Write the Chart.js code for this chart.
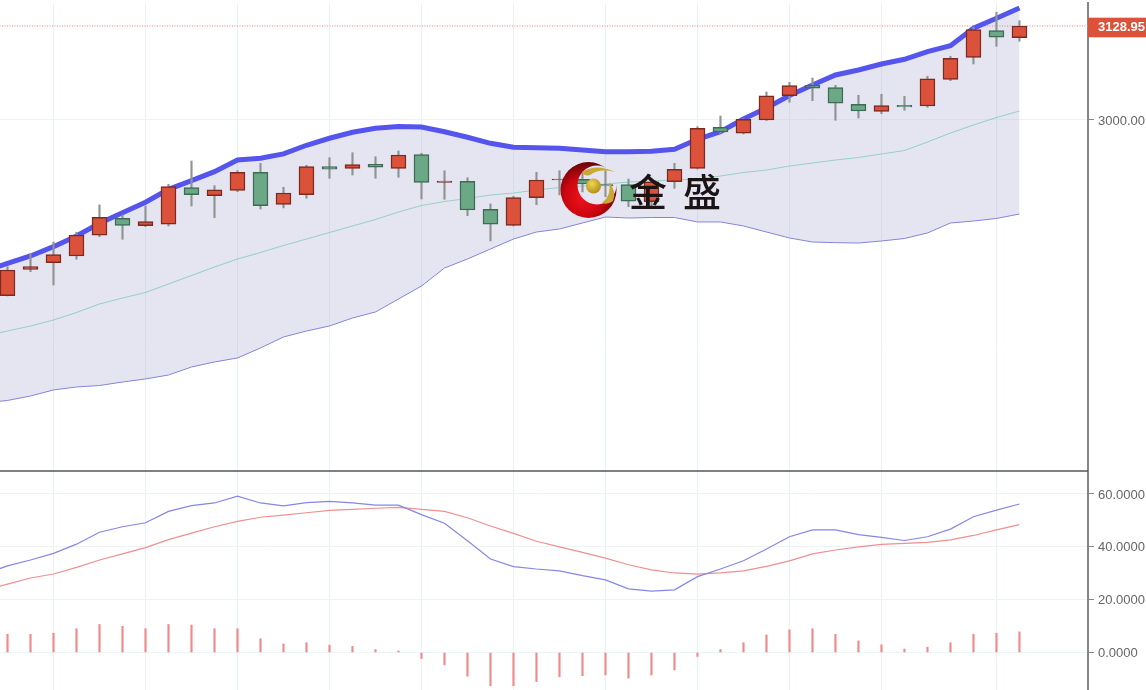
<!DOCTYPE html>
<html>
<head>
<meta charset="utf-8">
<script src="https://cdn.jsdelivr.net/npm/chart.js@4"></script>
<style>
html,body{margin:0;padding:0;background:#fff;overflow:hidden}
#wrap{position:relative;width:1146px;height:690px;filter:blur(0.4px)}
canvas{display:block}
.wm{position:absolute;font-family:"Noto Sans CJK SC",sans-serif;font-weight:500;font-size:38px;line-height:38px;color:#1c1414}
svg{position:absolute;left:0;top:0}
</style>
</head>
<body>
<div id="wrap">
<canvas id="c" width="1146" height="690"></canvas>
<svg width="1146" height="690" viewBox="0 0 1146 690">
<defs>
<radialGradient id="rg" cx="0.42" cy="0.62" r="0.62">
<stop offset="0" stop-color="#f0141e"/><stop offset="0.55" stop-color="#cc060f"/><stop offset="1" stop-color="#640508"/>
</radialGradient>
<radialGradient id="gb" cx="0.4" cy="0.35" r="0.7">
<stop offset="0" stop-color="#f0d850"/><stop offset="1" stop-color="#b08a18"/>
</radialGradient>
<mask id="cm"><rect x="540" y="150" width="100" height="90" fill="#fff"/><circle cx="597" cy="185" r="19.5" fill="#000"/></mask>
</defs>
<circle cx="588.5" cy="190" r="28" fill="url(#rg)" mask="url(#cm)"/>
<path d="M582 172 Q596 163 615 172 Q600 168 590 175 Q585 177 582 172Z" fill="#c8a838"/>
<path d="M602 203 Q612 195 609 182 Q617 192 613 201 Q608 205 602 203Z" fill="#c8a838"/>
<circle cx="593.5" cy="186" r="7.5" fill="url(#gb)"/>
</svg>
<div class="wm" style="left:629px;top:171px">金</div>
<div class="wm" style="left:683px;top:171px">盛</div>
</div>
<script>
const xIndex = [-1,0,1,2,3,4,5,6,7,8,9,10,11,12,13,14,15,16,17,18,19,20,21,22,23,24,25,26,27,28,29,30,31,32,33,34,35,36,37,38,39,40,41,42,43,44];
const opens = [2758.9,2794.9,2804.2,2813.4,2841.8,2865.1,2855,2856.9,2907.1,2896.1,2903.5,2928.2,2884.3,2897.5,2935.9,2933.7,2939.2,2933.7,2952.4,2914.5,2915.9,2877.5,2855.5,2893.4,2917.7,2918.6,2911.2,2911.2,2887.9,2915.3,2933.7,2990,2981.8,3000,3033.3,3047.6,3044.3,3021.5,3011.9,3020.2,3019.2,3055.8,3086,3122.5,3112.9];
const highs = [2798.7,2817.1,2832.6,2845.9,2883.4,2869.7,2882,2911.8,2943.7,2909.9,2930.4,2940.6,2907.7,2937.8,2948.3,2955.1,2949.6,2957.5,2954.3,2930.4,2920.8,2884.8,2895.3,2928.2,2930.4,2928.7,2930.4,2919,2920.4,2940.6,2990.8,3005.5,3001.8,3038.4,3051.7,3057.6,3047.6,3033.9,3035.3,3032.5,3060,3087.4,3127.2,3147.8,3136.2];
const lows = [2758.5,2791.9,2773.6,2808.9,2839.9,2836.3,2853.6,2854.6,2882,2866,2901.6,2877.9,2879.3,2892.6,2920,2924.5,2920,2921.4,2891.6,2891.2,2868.7,2834,2854.6,2883.8,2897.1,2901.2,2894.8,2881,2882,2906.3,2932.8,2981.8,2980.8,2999.3,3024.3,3026.5,2999.6,3002.7,3008.6,3013.3,3017.4,3053.9,3076.8,3101.1,3108];
const closes = [2794.2,2799,2815.2,2842.2,2866.5,2855.5,2860.5,2908.5,2897.5,2904,2928.2,2882.4,2899.8,2935.9,2932.4,2938.7,2935.1,2952,2914.5,2916.3,2876.5,2856.9,2893.4,2917.7,2919,2912.2,2909.4,2888.5,2915.3,2932.4,2988.6,2983.5,3001,3033.3,3047.1,3043.5,3022.9,3012.3,3019.6,3017.8,3056.3,3084.7,3123.9,3113.5,3128.95];
const bandUpper = [2792.8,2803.4,2813.4,2826.2,2840.8,2858.3,2872.8,2887.1,2904.9,2916.7,2929.1,2945.1,2947.5,2953.4,2965.3,2974.9,2983.1,2988.6,2991.1,2990.4,2983.9,2976.3,2968,2962.5,2962,2961.2,2958.8,2956.5,2956.5,2957.1,2959.8,2973.5,2983.9,3001.4,3016.5,3033.6,3048,3061.7,3068.6,3076.8,3083.3,3093.7,3101.9,3125.8,3139.5,3153.7];
const bandMiddle = [2703.6,2710.5,2717.4,2725.6,2735.9,2747.6,2755.8,2763.3,2775,2786.7,2798.3,2809.3,2818.2,2827.8,2836.7,2845.6,2854.6,2863.5,2873.8,2882.7,2888.2,2892.3,2897.1,2899.8,2904,2907.4,2909.4,2912.2,2914.9,2916.3,2917.7,2919.1,2923.2,2928,2931.4,2936.9,2941,2945.1,2948.5,2953.4,2958.2,2969.8,2982.2,2993.1,3003.4,3012.3];
const bandLower = [2611.7,2615.2,2621.3,2629.6,2633.7,2635.7,2640.5,2644.7,2650.1,2661.1,2668,2673.5,2687.2,2702.3,2710.5,2717.4,2728.3,2736.6,2754.4,2772.2,2796.9,2809.3,2823,2836.7,2846.3,2850.5,2858.7,2866.9,2865.5,2866.2,2866.2,2860.1,2860.1,2854.6,2846.3,2838.1,2832.6,2831.7,2831.2,2834,2837.4,2845,2858.7,2861.4,2864.9,2871];
const macdDif = [29.7,32.8,35,37.5,41,45.5,47.6,49.1,53.4,55.6,56.6,59.2,56.6,55.5,56.7,57.2,56.6,55.8,55.8,52.2,48.9,42.3,35.4,32.5,31.6,30.9,29.1,27.5,24.1,23.2,23.7,28.7,31.6,34.7,39.2,43.8,46.4,46.4,44.6,43.6,42.4,43.8,46.7,51.4,53.9,56.2];
const macdDea = [23.4,25.9,28.2,29.7,32.2,35,37.3,39.7,42.7,45.2,47.6,49.6,51.2,52,52.9,53.8,54.2,54.6,54.9,54.2,53.4,51,47.9,45.1,42.1,40,37.9,35.7,33.2,31.3,30.1,29.7,30.1,30.9,32.6,34.7,37.3,38.8,40,40.9,41.3,41.7,42.6,44.3,46.4,48.4];
const macdHist = [6.9,6.9,7.3,9,10.6,9.9,9,10.6,10.4,9,9,5.2,3.2,3.7,2.8,2.3,1.1,0.6,-2.3,-4.7,-9,-12.6,-12.6,-11,-9.2,-8.8,-8.5,-9.7,-8.5,-6.6,-1.5,1.1,3.7,6.6,8.6,9,6.9,4.4,2.9,1.3,2,3.7,6.9,7.3,7.8];
const gridIndex = [2,6,10,14,18,22,26,30,34,38,43];
const priceTicks = [3000,3128.95];
const priceTickLabels = ["3000.00","3128.95"];
const macdTicks = [0,20,40,60];
const macdTickLabels = ["0.0000","20.0000","40.0000","60.0000"];
const lastPrice = 3128.95;

const candleIdx = xIndex.slice(1);
const RED='#dc5139', REDB='#7c2a20', GRN='#6ba886', GRNB='#3d6b55';
const isUp = i => closes[i] >= opens[i];
const isLast = c => !!(c && c.tick && c.tick.value === lastPrice);
const fitAxis = s => { s.width = 58; s.paddingTop = 0; s.paddingBottom = 0; };

const separator = {
  id:'separator',
  afterDatasetsDraw(chart){
    const {ctx, scales:{y}, chartArea:a} = chart;
    ctx.save();
    ctx.strokeStyle='#55555f'; ctx.lineWidth=1.6;
    ctx.beginPath(); ctx.moveTo(a.left,y.bottom); ctx.lineTo(a.right,y.bottom); ctx.stroke();
    ctx.restore();
  }
};

new Chart(document.getElementById('c'),{
  type:'bar',
  plugins:[separator],
  data:{datasets:[
    {type:'bar',label:'body',order:1,yAxisID:'y',grouped:false,barThickness:15,borderSkipped:false,borderWidth:1.5,
     data:candleIdx.map((x,i)=>({x,y:[opens[i],closes[i]]})),
     backgroundColor:c=>isUp(c.dataIndex)?RED:GRN,
     borderColor:c=>isUp(c.dataIndex)?REDB:GRNB},
    {type:'bar',label:'wick',order:2,yAxisID:'y',grouped:false,barThickness:1.5,borderWidth:0,
     data:candleIdx.map((x,i)=>({x,y:[lows[i],highs[i]]})),
     backgroundColor:'#8f9491'},
    {type:'line',label:'upper',order:3,yAxisID:'y',data:xIndex.map((x,i)=>({x,y:bandUpper[i]})),
     borderColor:'#5555ee',borderWidth:5,pointRadius:0,tension:0,
     fill:{target:3},backgroundColor:'rgba(160,160,210,0.28)'},
    {type:'line',label:'lower',order:4,yAxisID:'y',data:xIndex.map((x,i)=>({x,y:bandLower[i]})),
     borderColor:'#7f7fdc',borderWidth:1,pointRadius:0,tension:0,fill:false},
    {type:'line',label:'middle',order:4,yAxisID:'y',data:xIndex.map((x,i)=>({x,y:bandMiddle[i]})),
     borderColor:'#96e2c4',borderWidth:1.1,pointRadius:0,tension:0,fill:false},
    {type:'line',label:'last',order:5,yAxisID:'y',data:[{x:-1,y:lastPrice},{x:48,y:lastPrice}],
     borderColor:'#e8806e',borderWidth:1,borderDash:[1,1.5],pointRadius:0,fill:false},
    {type:'bar',label:'hist',order:3,yAxisID:'y2',grouped:false,barThickness:1.5,borderWidth:0,
     data:candleIdx.map((x,i)=>({x,y:macdHist[i]})),backgroundColor:'#ef8a8a'},
    {type:'line',label:'dea',order:2,yAxisID:'y2',data:xIndex.map((x,i)=>({x,y:macdDea[i]})),
     borderColor:'#ee9090',borderWidth:1.2,pointRadius:0,tension:0,fill:false},
    {type:'line',label:'dif',order:1,yAxisID:'y2',data:xIndex.map((x,i)=>({x,y:macdDif[i]})),
     borderColor:'#8686e6',borderWidth:1.2,pointRadius:0,tension:0,fill:false}
  ]},
  options:{
    responsive:false,animation:false,devicePixelRatio:1,
    layout:{padding:{top:3,left:0,right:0,bottom:0}},
    plugins:{legend:{display:false},tooltip:{enabled:false},title:{display:false}},
    scales:{
      x:{type:'linear',offset:false,min:-0.326,max:46.98,position:'bottom',
         afterBuildTicks(s){s.ticks=gridIndex.map(value=>({value}));},
         ticks:{display:false,autoSkip:false},
         border:{display:false},
         grid:{offset:false,color:'#e8f1f6',lineWidth:1,drawTicks:false}},
      y:{type:'linear',position:'right',stack:'main',stackWeight:468,min:2518.4,max:3160.5,
         afterFit:fitAxis,
         afterBuildTicks(s){s.ticks=priceTicks.map(value=>({value}));},
         border:{display:true,color:'#85858c',width:2},
         grid:{color:c=>isLast(c)?'rgba(0,0,0,0)':'#eef3f6',tickColor:'#888',tickLength:6},
         ticks:{autoSkip:false,padding:4,labelOffset:1.5,
           callback:v=>priceTickLabels[priceTicks.indexOf(v)],
           color:c=>isLast(c)?'#fff':'#666',
           font:c=>isLast(c)?{family:'Liberation Sans',size:13,weight:'bold'}:{family:'Liberation Sans',size:13},
           showLabelBackdrop:c=>isLast(c),
           backdropColor:'#dc5139',
           backdropPadding:{left:10,right:4,top:2,bottom:2}}},
      y2:{type:'linear',position:'right',stack:'main',stackWeight:219,min:-14.2,max:68.7,
         afterFit:fitAxis,
         afterBuildTicks(s){s.ticks=macdTicks.map(value=>({value}));},
         border:{display:true,color:'#85858c',width:2},
         grid:{color:'#eef3f6',tickColor:'#888',tickLength:6},
         ticks:{autoSkip:false,padding:4,labelOffset:1,color:'#666',font:{family:'Liberation Sans',size:13},
           callback:v=>macdTickLabels[macdTicks.indexOf(v)]}}
    }
  }
});
</script>
</body>
</html>
